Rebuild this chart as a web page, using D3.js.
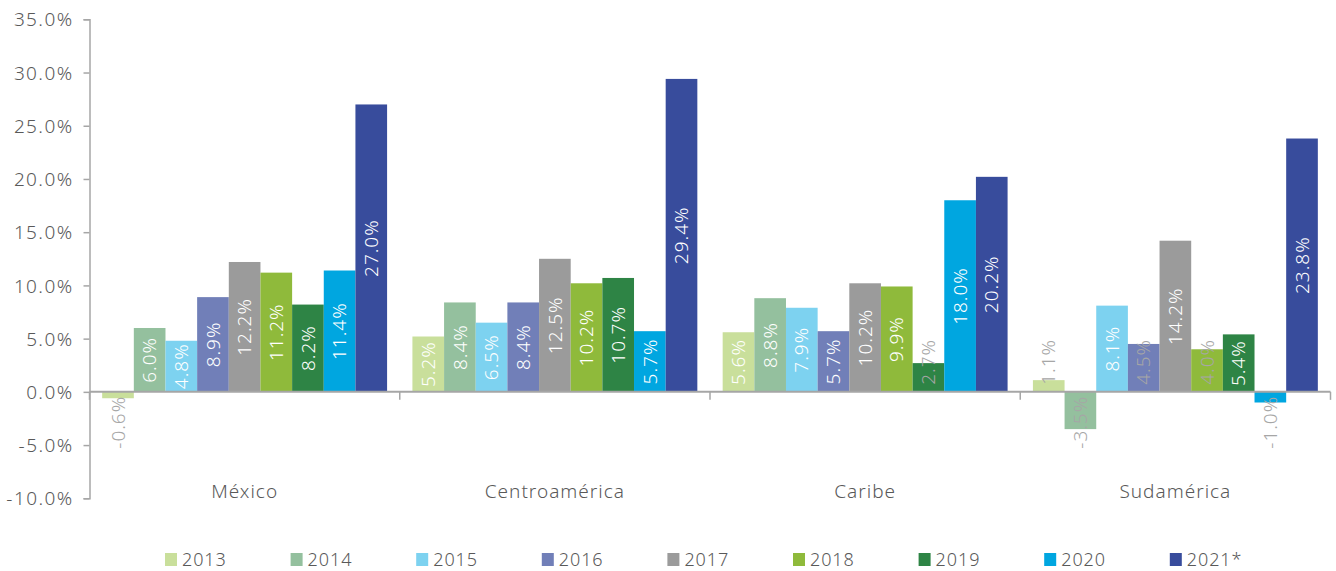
<!DOCTYPE html>
<html>
<head>
<meta charset="utf-8">
<script src="https://cdn.jsdelivr.net/npm/d3@7"></script>
<style>
  html, body { margin: 0; padding: 0; background: #fff; }
  svg text { font-family: "Noto Sans", "Open Sans", sans-serif; font-weight: 300; }
</style>
</head>
<body>
<svg id="chart" width="1336" height="571"></svg>
<script>
const categories = ["México", "Centroamérica", "Caribe", "Sudamérica"];
const years = ["2013", "2014", "2015", "2016", "2017", "2018", "2019", "2020", "2021*"];
const colors = ["#c9df9b", "#94c09e", "#7dd2f0", "#717fb8", "#9b9b9b", "#8fba3b", "#2e8445", "#00a6e0", "#384c9c"];
const mexico        = [-0.6, 6.0, 4.8, 8.9, 12.2, 11.2, 8.2, 11.4, 27.0];
const centroamerica = [5.2, 8.4, 6.5, 8.4, 12.5, 10.2, 10.7, 5.7, 29.4];
const caribe        = [5.6, 8.8, 7.9, 5.7, 10.2, 9.9, 2.7, 18.0, 20.2];
const sudamerica    = [1.1, -3.5, 8.1, 4.5, 14.2, 4.0, 5.4, -1.0, 23.8];
const yTicks = [-10, -5, 0, 5, 10, 15, 20, 25, 30, 35];

const seriesByCategory = [mexico, centroamerica, caribe, sudamerica];

(function () {
const svg = d3.select("#chart");
const textColor = "#595959";
const axisColor = "#a6a6a6";
const fontSize = 19;

const mLeft = 89.5, mRight = 1330.5, mTop = 19.3, mBottom = 498.3;
const y = d3.scaleLinear().domain([-10, 35]).range([mBottom, mTop]);
const x0 = d3.scaleBand().domain(categories).range([mLeft, mRight]).padding(0);
const x1 = d3.scaleBand().domain(years).range([0, x0.bandwidth()]).paddingInner(0).paddingOuter(0.4);
const y0 = y(0);

// Y axis
const yAxis = svg.append("g").attr("transform", `translate(${mLeft},0)`)
  .call(d3.axisLeft(y).tickValues(yTicks).tickSize(6).tickPadding(10).tickFormat(d => d.toFixed(1) + "%"));
yAxis.select(".domain").attr("stroke", axisColor).attr("stroke-width", 1.5);
yAxis.selectAll(".tick line").attr("stroke", axisColor).attr("stroke-width", 1.5);
yAxis.selectAll(".tick text").attr("fill", textColor).style("font-size", fontSize + "px")
  .style("letter-spacing", "1.4px").attr("dy", "0.35em");

// Bars
const groups = svg.append("g").selectAll("g").data(categories).join("g")
  .attr("transform", d => `translate(${x0(d)},0)`);

groups.each(function(cat, ci) {
  const g = d3.select(this);
  const vals = seriesByCategory[ci].map((v, i) => ({ year: years[i], v, i }));
  g.selectAll("rect").data(vals).join("rect")
    .attr("x", d => x1(d.year))
    .attr("width", x1.bandwidth())
    .attr("y", d => Math.min(y(d.v), y0))
    .attr("height", d => Math.abs(y(d.v) - y0))
    .attr("fill", d => colors[d.i]);

  g.selectAll("text.lbl").data(vals).join("text")
    .attr("class", "lbl")
    .style("font-size", fontSize + "px")
    .style("letter-spacing", "1px")
    .text(d => d.v.toFixed(1) + "%")
    .each(function(d) {
      const t = d3.select(this);
      const len = this.getComputedTextLength();
      const h = Math.abs(y(d.v) - y0);
      const fits = h >= len + 4;
      const cx = x1(d.year) + x1.bandwidth() / 2;
      let cy = (y(d.v) + y0) / 2;
      if (!fits) {
        if (d.v >= 0) cy = Math.min(cy, y0 - 7 - len / 2);
        else cy = Math.max(cy, y0 + 4 + len / 2);
      }
      t.attr("text-anchor", "middle")
        .attr("dy", "0.35em")
        .attr("transform", `translate(${cx},${cy}) rotate(-90)`)
        .attr("fill", fits ? "#ffffff" : "#a6a6a6");
    });
});

// X axis line with category boundary ticks
const xAxis = svg.append("g");
xAxis.append("line").attr("x1", mLeft).attr("x2", mRight).attr("y1", y0).attr("y2", y0)
  .attr("stroke", axisColor).attr("stroke-width", 2);
const boundaries = categories.map(c => x0(c)).concat([x0(categories[categories.length - 1]) + x0.bandwidth()]);
xAxis.selectAll("line.b").data(boundaries).join("line").attr("class", "b")
  .attr("x1", d => d).attr("x2", d => d).attr("y1", y0).attr("y2", y0 + 8)
  .attr("stroke", axisColor).attr("stroke-width", 1.5);

// Category labels
svg.append("g").selectAll("text").data(categories).join("text")
  .attr("x", d => x0(d) + x0.bandwidth() / 2)
  .attr("y", 498)
  .attr("text-anchor", "middle")
  .attr("fill", textColor)
  .style("font-size", fontSize + "px")
  .style("letter-spacing", "1px")
  .text(d => d);

// Legend
const legX = d3.scaleLinear().domain([0, years.length - 1]).range([165, 165 + 125.6 * 8]);
const leg = svg.append("g").selectAll("g").data(years).join("g")
  .attr("transform", (d, i) => `translate(${legX(i)},553)`);
leg.append("rect").attr("width", 12).attr("height", 13).attr("fill", (d, i) => colors[i]);
leg.append("text").attr("x", 17).attr("y", 12.5)
  .attr("fill", textColor)
  .style("font-size", "18px")
  .style("letter-spacing", "0.9px")
  .text(d => d);
})();
</script>
</body>
</html>
